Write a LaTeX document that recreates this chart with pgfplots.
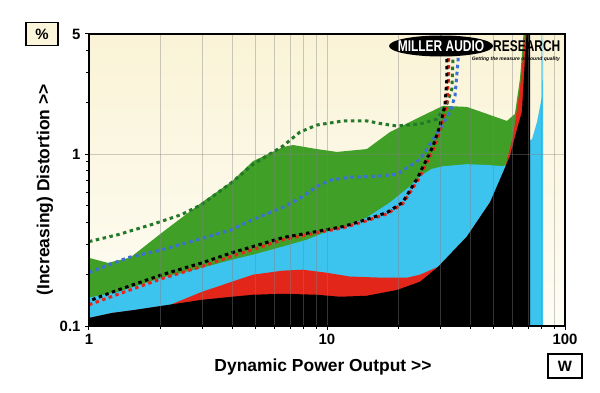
\documentclass[border=0pt]{standalone}
\usepackage{pgfplots}
\pgfplotsset{compat=1.18}
\usepackage{fontspec}
\setmainfont{Liberation Sans}
\definecolor{bgtop}{HTML}{FAF3D6}
\definecolor{bgbot}{HTML}{FEFDF5}
\definecolor{gA}{HTML}{3F9F27}
\definecolor{bA}{HTML}{3CC3EE}
\definecolor{rA}{HTML}{E3261A}
\definecolor{gD}{HTML}{23782A}
\definecolor{bD}{HTML}{3E6FD9}
\definecolor{rD}{HTML}{E8241B}
\definecolor{boxfill}{HTML}{FBF5DC}
\newcommand{\fb}[1]{\fontsize{#1}{#1}\selectfont\bfseries}
\begin{document}
\begin{tikzpicture}
\useasboundingbox (-89bp,-67bp) rectangle (511bp,326bp);
\begin{axis}[
  at={(0,0)}, anchor=south west,
  scale only axis, width=476bp, height=292bp,
  xmode=log, ymode=log,
  xmin=1, xmax=100, ymin=0.1, ymax=5,
  axis on top,
  axis background/.style={top color=bgtop, bottom color=bgbot},
  axis line style={line width=1.5bp},
  xtick={1,10,100}, xticklabels={1,10,100},
  minor xtick={2,3,4,5,6,7,8,9,20,30,40,50,60,70,80,90},
  ytick={0.1,1,5}, yticklabels={0.1,1,5},
  minor ytick={0.2,0.3,0.4,0.5,0.6,0.7,0.8,0.9,2,3,4},
  xtick pos=left, ytick pos=left,
  tick align=outside,
  major tick length=4bp, minor tick length=3bp,
  every tick/.style={black, line width=1bp},
  xmajorgrids, xminorgrids, ymajorgrids,
  major grid style={gray, opacity=0.4, line width=1bp},
  minor grid style={gray, opacity=0.4, line width=1bp},
  ticklabel style={font=\fb{15}},
  xticklabel style={yshift=-1bp},
  yticklabel style={xshift=-1bp},
]
% green area
\addplot[fill=gA, draw=none] coordinates {
(0.99,0.05) (0.99,0.25) (1.2,0.233) (1.49,0.25) (2.03,0.35) (2.98,0.524) (3.99,0.695) (4.89,0.91)
(6.53,1.10) (7.2,1.13) (9.08,1.07) (11.0,1.03) (14.7,1.07) (18.4,1.345) (24.6,1.646) (30.7,1.91)
(38.7,1.883) (47.0,1.714) (57.0,1.56) (61.6,1.714) (64.7,2.75) (66.6,4.52) (67.5,6) (69,6) (69,0.05)
} -- cycle;
% blue area
\addplot[fill=bA, draw=none] coordinates {
(0.99,0.05) (0.99,0.146) (1.324,0.158) (2.03,0.191) (2.98,0.218) (3.99,0.243) (4.89,0.260)
(6.53,0.290) (8.24,0.318) (10.0,0.355) (12.5,0.390) (14.7,0.428) (18.4,0.524) (22.3,0.650)
(24.6,0.744) (27.5,0.82) (30.7,0.85) (38.7,0.874) (47,0.865) (54.9,0.851) (60,0.9) (71.3,1.2)
(72.7,1.224) (76.3,1.54) (80.1,2.18) (80.8,6) (81,6) (81,0.05)
} -- cycle;
% red area
\addplot[fill=rA, draw=none] coordinates {
(0.99,0.05) (0.99,0.111) (1.249,0.119) (1.56,0.124) (2.2,0.133) (2.98,0.158) (3.99,0.181)
(4.89,0.199) (6.53,0.210) (7.93,0.2126) (10,0.204) (12.5,0.194) (17.2,0.191) (21.7,0.191)
(24.6,0.199) (29.3,0.221) (38.7,0.331) (48.4,0.524) (54.9,0.75) (60.5,1.274) (64.7,2.40)
(67.9,4.90) (68.6,6) (70,6) (70,0.05)
} -- cycle;
% black area
\addplot[fill=black, draw=none] coordinates {
(0.99,0.05) (0.99,0.111) (1.249,0.119) (1.56,0.124) (2.30,0.1345) (2.98,0.142) (3.99,0.148)
(4.89,0.152) (6.53,0.154) (9.08,0.152) (11.3,0.148) (14.7,0.150) (19.7,0.162) (24.6,0.181)
(29.3,0.221) (38.7,0.331) (48.4,0.524) (54.9,0.785) (58.7,0.973) (62.9,1.40) (65.9,1.76)
(67.9,3.59) (68.9,5) (69.2,6) (71.3,6) (71.3,0.05)
} -- cycle;
% dotted lines
\addplot[gD, line width=3bp, dash pattern=on 3.5bp off 3.5bp] coordinates {
(1.0,0.31) (1.324,0.340) (1.84,0.390) (2.46,0.446) (2.98,0.510) (3.99,0.686) (4.89,0.874)
(6.53,1.114) (7.70,1.345) (9.08,1.478) (11.7,1.56) (14.7,1.56) (17.2,1.497) (19.7,1.458)
(24.6,1.497) (29.0,1.60) (31.9,1.96) (33.5,2.40) (33.8,3.45) (34.2,5.4)
};
\addplot[bD, line width=3bp, dash pattern=on 3.5bp off 3.5bp] coordinates {
(1.0,0.205) (1.458,0.250) (2.03,0.278) (2.98,0.323) (3.99,0.364) (4.89,0.417) (6.53,0.490)
(7.93,0.568) (9.08,0.650) (10.3,0.705) (12.5,0.734) (16.2,0.744) (19.7,0.764) (24.6,0.93)
(29.8,1.40) (32.9,1.76) (34.5,2.18) (35.5,3.45) (36.2,5.4)
};
\addplot[rD, line width=3bp, dash pattern=on 3.5bp off 3.5bp] coordinates {
(1.0,0.133) (1.324,0.153) (2.03,0.189) (2.98,0.222) (3.99,0.255) (4.89,0.279) (6.53,0.318)
(9.08,0.349) (11.7,0.373) (14.7,0.410) (17.9,0.450) (20.8,0.515) (24.4,0.725) (28.3,1.10)
(30.2,1.44) (31.8,1.90) (32.4,2.75) (32.4,3.6) (33.4,5.4)
};
\addplot[black, line width=3bp, dash pattern=on 3.5bp off 3.5bp, dash phase=3.5bp] coordinates {
(1.0,0.140) (1.324,0.162) (2.03,0.199) (2.98,0.233) (3.99,0.267) (4.89,0.290) (6.53,0.327)
(9.08,0.355) (11.7,0.379) (14.7,0.417) (17.9,0.458) (20.8,0.524) (24.1,0.734) (27.9,1.114)
(29.8,1.458) (31.3,1.909) (31.9,2.746) (31.9,3.6) (32.9,5.4)
};
\end{axis}
% logo
\fill[black] (352bp,280bp) ellipse (52bp and 10.5bp);
\node[white, font=\fb{12}, yscale=1.3, inner sep=0pt] at (352bp,280bp) {MILLER AUDIO};
\node[black, font=\fb{12}, yscale=1.3, anchor=west, inner sep=0pt] at (404bp,280bp) {RESEARCH};
\node[black, font=\fontsize{5}{5}\selectfont\bfseries\itshape, anchor=east, inner sep=0pt] at (471bp,267bp) {Getting the measure of sound quality};
% axis labels
\node[rotate=90, font=\fb{17.5}] at (-44bp,136bp) {(Increasing) Distortion >{}>};
\node[font=\fb{17.5}] at (234bp,-41bp) {Dynamic Power Output >{}>};
% unit boxes
\node[draw=black, line width=1.2bp, fill=boxfill, minimum width=32bp, minimum height=23bp, inner sep=0pt, font=\fb{15}] at (-47bp,292bp) {\%};
\node[draw=black, line width=1.2bp, fill=white, minimum width=34bp, minimum height=24bp, inner sep=0pt, font=\fb{15}] at (476bp,-40bp) {W};
\end{tikzpicture}
\end{document}
